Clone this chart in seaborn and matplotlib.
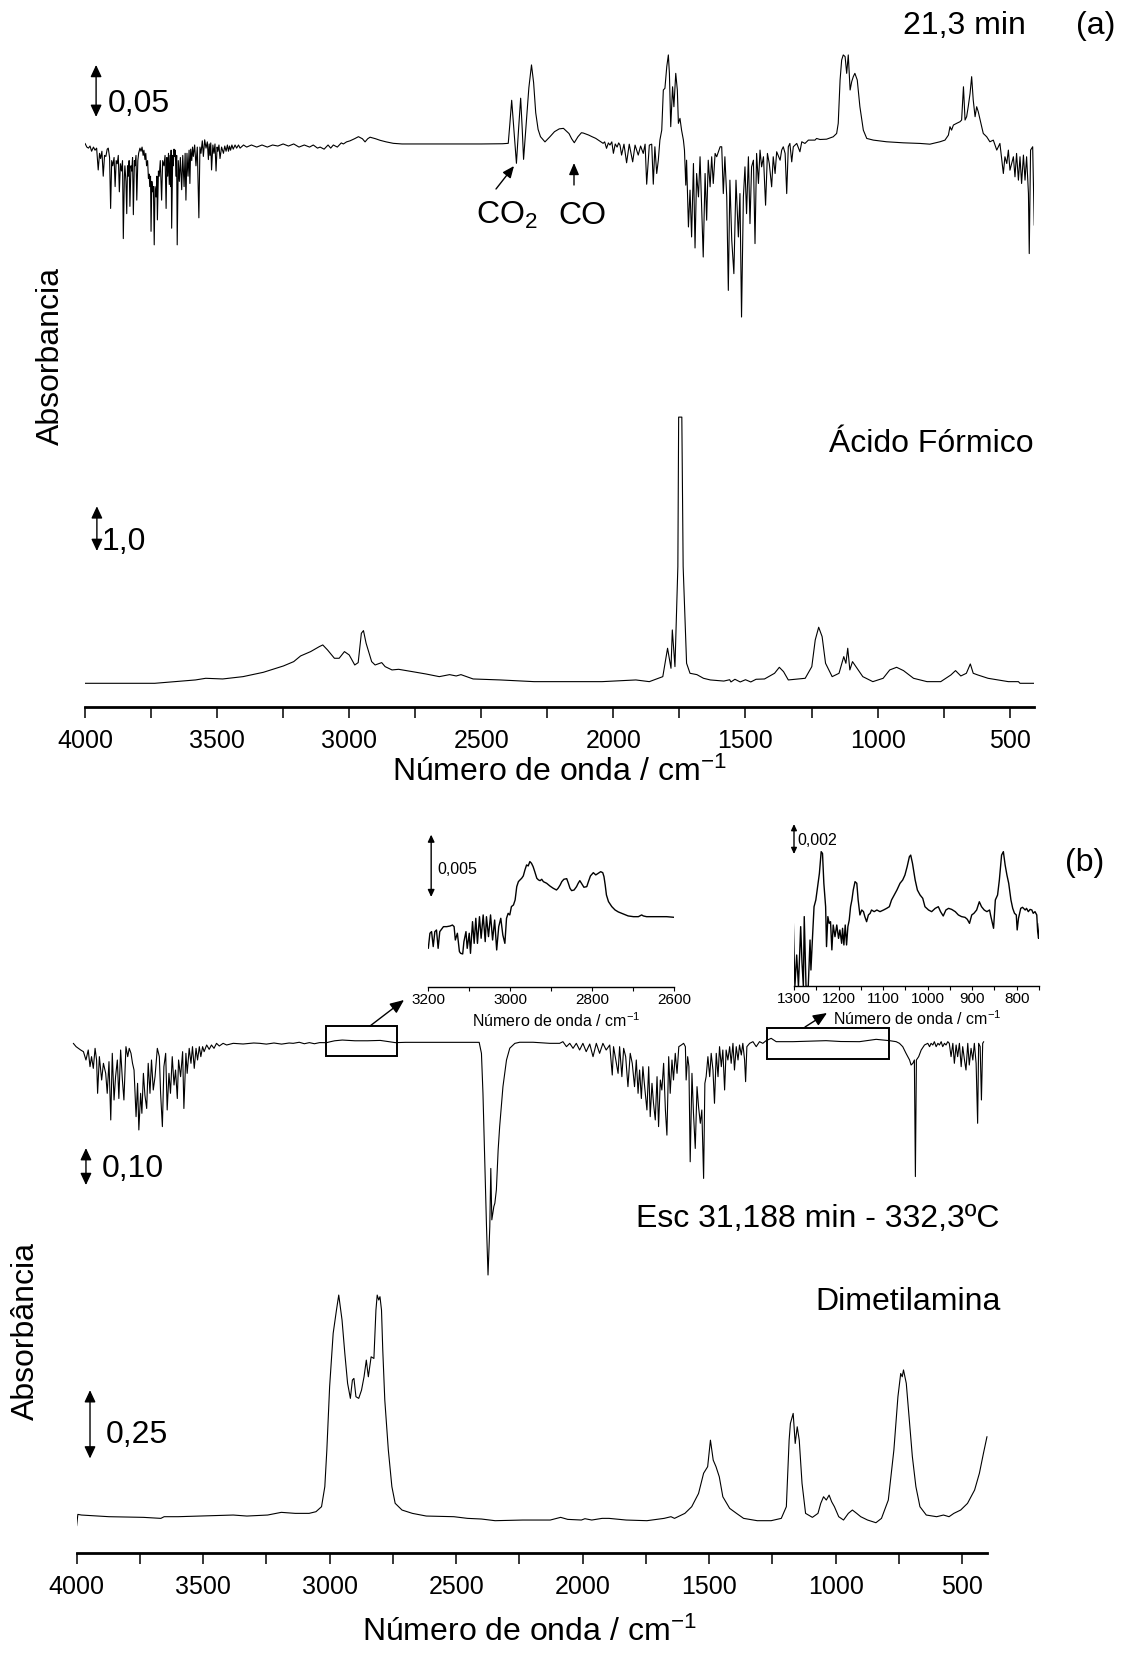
import matplotlib
matplotlib.use("Agg")
import matplotlib.pyplot as plt
import seaborn as sns
from matplotlib.ticker import MultipleLocator
from matplotlib.patches import Rectangle, FancyArrowPatch

# ---------------- data (wavenumber cm-1, absorbance) ----------------
# (a) sample spectrum at 21,3 min
SAMPLE_A = [
    (4000, 0.0016), (3993, -0.002), (3987, -0.003), (3981, -0.001), (3975, -0.006), (3968, -0.002),
    (3962, -0.005), (3956, -0.003), (3950, -0.024), (3945, -0.008), (3941, -0.013), (3936, -0.006),
    (3931, -0.030), (3926, -0.010), (3921, -0.011), (3916, -0.004), (3912, -0.003), (3907, -0.012),
    (3903, -0.061), (3899, -0.015), (3895, -0.020), (3890, -0.012), (3886, -0.040), (3882, -0.015),
    (3878, -0.018), (3874, -0.010), (3870, -0.045), (3866, -0.018), (3862, -0.025), (3858, -0.015),
    (3855, -0.090), (3851, -0.030), (3849, -0.020), (3845, -0.035), (3842, -0.066), (3839, -0.020),
    (3836, -0.030), (3833, -0.015), (3830, -0.059), (3826, -0.020), (3823, -0.025), (3820, -0.012),
    (3817, -0.067), (3813, -0.015), (3811, -0.020), (3807, -0.010), (3804, -0.053), (3800, -0.015),
    (3797, -0.008), (3792, -0.003), (3788, -0.006), (3784, -0.002), (3780, -0.010), (3777, -0.005),
    (3773, -0.014), (3770, -0.008), (3767, -0.020), (3763, -0.015), (3760, -0.032), (3757, -0.028),
    (3755, -0.040), (3752, -0.030), (3750, -0.083), (3747, -0.035), (3744, -0.045), (3741, -0.040),
    (3738, -0.096), (3735, -0.040), (3731, -0.050), (3728, -0.030), (3726, -0.072), (3722, -0.025),
    (3719, -0.030), (3715, -0.015), (3710, -0.053), (3706, -0.015), (3701, -0.020), (3697, -0.010),
    (3693, -0.061), (3690, -0.012), (3687, -0.030), (3684, -0.008), (3681, -0.038), (3678, -0.010),
    (3676, -0.040), (3674, -0.005), (3672, -0.080), (3668, -0.010), (3666, -0.020), (3663, -0.004),
    (3661, -0.011), (3658, -0.005), (3656, -0.030), (3653, -0.010), (3651, -0.096), (3647, -0.015),
    (3643, -0.035), (3639, -0.012), (3634, -0.043), (3630, -0.010), (3625, -0.040), (3621, -0.008),
    (3618, -0.053), (3614, -0.008), (3610, -0.030), (3606, -0.005), (3603, -0.037), (3600, -0.004),
    (3596, -0.015), (3593, -0.002), (3590, -0.011), (3585, 0.000), (3580, -0.020), (3575, -0.002),
    (3569, -0.070), (3565, -0.002), (3561, -0.008), (3556, 0.004), (3552, -0.011), (3547, 0.005),
    (3542, -0.003), (3537, 0.003), (3533, -0.014), (3530, 0.001), (3527, -0.010), (3524, 0.002),
    (3521, -0.024), (3516, 0.000), (3512, -0.008), (3508, 0.001), (3504, -0.025), (3500, -0.002),
    (3497, -0.006), (3493, 0.000), (3489, -0.013), (3483, -0.002), (3476, -0.008), (3471, -0.001),
    (3466, -0.006), (3461, 0.000), (3457, -0.006), (3453, -0.001), (3449, -0.005), (3444, 0.000),
    (3439, -0.004), (3432, 0.000), (3426, -0.003), (3419, 0.000), (3413, -0.003), (3400, 0.000),
    (3388, -0.002), (3370, 0.000), (3350, -0.002), (3330, 0.000), (3310, -0.002), (3290, 0.000),
    (3270, -0.001), (3250, 0.001), (3230, -0.001), (3210, 0.001), (3190, -0.002), (3170, 0.000),
    (3150, -0.002), (3136, 0.000), (3120, -0.003), (3110, -0.002), (3095, -0.004), (3080, 0.000),
    (3070, -0.003), (3060, 0.000), (3045, -0.002), (3030, 0.002), (3022, 0.001), (3010, 0.003),
    (2997, 0.004), (2980, 0.006), (2965, 0.008), (2950, 0.006), (2940, 0.003), (2930, 0.006),
    (2921, 0.0075), (2900, 0.006), (2883, 0.0045), (2860, 0.003), (2833, 0.0016), (2800, 0.001),
    (2700, 0.001), (2600, 0.001), (2500, 0.001), (2420, 0.0012), (2398, 0.0016),
    (2392, 0.020), (2385, 0.043), (2376, 0.012), (2367, -0.0176), (2359, 0.015), (2351, 0.045),
    (2345, 0.015), (2340, -0.0138), (2330, 0.020), (2320, 0.055), (2310, 0.077), (2302, 0.060),
    (2294, 0.031), (2285, 0.015), (2276, 0.008), (2259, 0.003), (2240, 0.008), (2223, 0.0128),
    (2205, 0.0155), (2189, 0.016), (2168, 0.011), (2158, 0.006), (2148, 0.0022), (2134, 0.008),
    (2121, 0.0118), (2114, 0.0115), (2094, 0.0096), (2081, 0.008), (2067, 0.0064), (2053, 0.004),
    (2039, 0.0016), (2033, 0.003), (2026, -0.0032), (2019, 0.002), (2013, 0.000), (2006, 0.003),
    (2000, -0.008), (1993, 0.001), (1986, -0.002), (1980, 0.002), (1975, -0.0001),
    (1969, -0.0097), (1960, 0.0008), (1950, -0.0171), (1940, 0.0008), (1927, -0.0162), (1918, -0.0001),
    (1906, -0.0097), (1897, -0.001), (1887, -0.0081), (1880, 0.0008), (1874, -0.0377), (1864, -0.0001),
    (1855, 0.0008), (1849, -0.0377), (1843, -0.0017), (1836, -0.0274), (1830, -0.0146), (1824, 0.0047),
    (1817, 0.0143), (1811, 0.0529), (1805, 0.0545), (1798, 0.0753), (1792, 0.0866), (1788, 0.0689),
    (1783, 0.0176), (1776, 0.056), (1771, 0.0368), (1764, 0.0689), (1758, 0.0529), (1754, 0.0208),
    (1748, 0.0256), (1742, 0.0143), (1735, 0.0047), (1731, -0.0049), (1726, -0.0386), (1723, -0.0146),
    (1716, -0.0788), (1710, -0.0434), (1704, -0.0884), (1697, -0.0178), (1691, -0.099), (1685, -0.0274),
    (1678, -0.0499), (1672, -0.0113), (1666, -0.0595), (1660, -0.1077), (1653, -0.0274), (1647, -0.0723),
    (1641, -0.0146), (1634, -0.0402), (1628, -0.0113), (1622, -0.037), (1615, -0.0081), (1609, -0.0113),
    (1596, -0.0017), (1590, -0.0017), (1584, -0.0467), (1578, -0.0113), (1571, -0.0499), (1565, -0.1398),
    (1559, -0.0338), (1552, -0.0916), (1544, -0.1237), (1536, -0.0338), (1527, -0.0884), (1521, -0.0467),
    (1515, -0.1654), (1508, -0.0499), (1502, -0.021), (1496, -0.066), (1489, -0.0113), (1483, -0.0756),
    (1477, -0.021), (1470, -0.0146), (1464, -0.0948), (1458, -0.0081), (1451, -0.037), (1445, -0.0049),
    (1439, -0.021), (1432, -0.0113), (1424, -0.0579), (1417, -0.0081), (1410, -0.0178), (1401, -0.0402),
    (1395, -0.0113), (1388, -0.0274), (1382, -0.0065), (1369, -0.0146), (1363, -0.0049), (1357, -0.0017),
    (1350, -0.0081), (1344, -0.0467), (1338, -0.0017), (1332, 0.0015), (1325, -0.0162), (1319, -0.0017),
    (1306, 0.0015), (1294, -0.0065), (1287, 0.0031), (1275, 0.0015), (1262, 0.0047), (1250, 0.0047),
    (1237, 0.0047), (1231, 0.0063), (1218, 0.0053), (1193, 0.0056), (1168, 0.0079), (1155, 0.0111),
    (1149, 0.0208), (1142, 0.0625), (1136, 0.0817), (1130, 0.0866), (1123, 0.085), (1117, 0.0689),
    (1111, 0.0866), (1104, 0.0529), (1098, 0.0609), (1092, 0.0657), (1086, 0.0689), (1077, 0.0625),
    (1067, 0.0368), (1054, 0.0143), (1041, 0.0063), (1016, 0.0047), (966, 0.0031), (903, 0.0021),
    (839, 0.0015), (802, 0.0008), (764, 0.0031), (745, 0.0047), (732, 0.0095), (726, 0.0176),
    (720, 0.0143), (713, 0.0192), (701, 0.0208), (688, 0.0224), (682, 0.024), (675, 0.056),
    (669, 0.024), (663, 0.0272), (657, 0.0368), (650, 0.0496), (644, 0.0657), (638, 0.0432),
    (631, 0.0272), (625, 0.0368), (619, 0.032), (612, 0.024), (606, 0.0176), (600, 0.0111),
    (587, 0.0079), (575, 0.0031), (562, 0.0047), (549, -0.0049), (537, 0.0015), (524, -0.0274),
    (518, -0.0113), (511, -0.0178), (505, -0.0049), (499, -0.0242), (486, -0.0113), (480, -0.0306),
    (474, -0.0081), (467, -0.0338), (461, -0.0113), (455, -0.037), (448, -0.0097), (442, -0.0338),
    (436, -0.0113), (429, -0.0467), (426, -0.1044), (421, -0.0049), (413, -0.0017), (407, -0.0772),
]

# (a) reference: formic acid
FORMIC = [
    (4000, 0.0), (3736, 0.0), (3582, 0.075), (3543, 0.112), (3479, 0.097), (3402, 0.149), (3325, 0.246),
    (3249, 0.388), (3210, 0.485), (3184, 0.612), (3146, 0.709), (3113, 0.821), (3100, 0.858),
    (3082, 0.746), (3056, 0.560), (3038, 0.560), (3018, 0.709), (3000, 0.634), (2979, 0.410),
    (2966, 0.463), (2954, 1.119), (2946, 1.179), (2936, 0.896), (2915, 0.485), (2902, 0.410),
    (2877, 0.463), (2864, 0.373), (2838, 0.299), (2813, 0.313), (2761, 0.261), (2710, 0.209),
    (2659, 0.149), (2620, 0.194), (2595, 0.164), (2577, 0.194), (2531, 0.097), (2428, 0.075),
    (2300, 0.037), (2043, 0.037), (1915, 0.075), (1864, 0.037), (1813, 0.149), (1795, 0.784),
    (1782, 0.336), (1777, 1.194), (1767, 0.373), (1756, 2.612), (1753, 5.955), (1741, 5.955),
    (1736, 2.612), (1723, 0.448), (1710, 0.224), (1684, 0.194), (1659, 0.112), (1633, 0.075),
    (1582, 0.05), (1560, 0.08), (1555, 0.03), (1540, 0.09), (1520, 0.03), (1500, 0.08), (1480, 0.03),
    (1460, 0.09), (1428, 0.097), (1390, 0.224), (1372, 0.358), (1356, 0.261), (1338, 0.075),
    (1300, 0.097), (1274, 0.112), (1249, 0.373), (1236, 0.970), (1223, 1.254), (1210, 1.045),
    (1197, 0.448), (1172, 0.149), (1146, 0.224), (1128, 0.597), (1120, 0.448), (1113, 0.784),
    (1105, 0.299), (1095, 0.485), (1082, 0.373), (1056, 0.149), (1018, 0.037), (979, 0.112),
    (954, 0.299), (928, 0.358), (902, 0.284), (864, 0.112), (813, 0.037), (761, 0.037), (723, 0.185),
    (705, 0.284), (685, 0.164), (664, 0.224), (649, 0.433), (638, 0.224), (620, 0.185), (582, 0.112),
    (505, 0.037), (467, 0.037), (461, 0.0), (408, 0.0),
]

# (b) sample spectrum Esc 31,188 min
SAMPLE_B = [
    (4013, -0.0009), (4002, -0.0099), (3993, -0.0144), (3984, -0.0189), (3973, -0.0234), (3963, -0.0459),
    (3954, -0.0189), (3947, -0.064), (3941, -0.0369), (3934, -0.0685), (3927, -0.0144), (3921, -0.0459),
    (3917, -0.136), (3910, -0.0369), (3901, -0.100), (3894, -0.0549), (3885, -0.082), (3879, -0.136),
    (3872, -0.0504), (3865, -0.208), (3859, -0.0279), (3852, -0.154), (3846, -0.091), (3839, -0.0459),
    (3833, -0.150), (3826, -0.0189), (3819, -0.100), (3813, -0.154), (3805, -0.0099), (3798, -0.0369),
    (3792, -0.0144), (3785, -0.0279), (3779, -0.0549), (3773, -0.073), (3765, -0.199), (3759, -0.109),
    (3754, -0.235), (3747, -0.136), (3742, -0.190), (3736, -0.082), (3730, -0.141), (3723, -0.177),
    (3717, -0.0549), (3710, -0.136), (3704, -0.0459), (3697, -0.127), (3690, -0.091), (3681, -0.0144),
    (3673, -0.0369), (3668, -0.136), (3661, -0.226), (3655, -0.064), (3648, -0.0279), (3642, -0.181),
    (3635, -0.082), (3629, -0.136), (3622, -0.0369), (3615, -0.1135), (3609, -0.073), (3602, -0.150),
    (3597, -0.0459), (3589, -0.091), (3581, -0.0234), (3576, -0.177), (3568, -0.0279), (3563, -0.082),
    (3555, -0.0144), (3548, -0.0549), (3542, -0.0099), (3535, -0.0685), (3528, -0.0144), (3522, -0.0459),
    (3515, -0.0099), (3509, -0.0369), (3502, -0.0099), (3496, -0.0234), (3486, -0.0054), (3476, -0.0171),
    (3467, -0.0054), (3457, -0.0144), (3447, -0.0009), (3436, -0.0081), (3421, -0.0009), (3407, -0.0054),
    (3381, -0.0009), (3342, -0.0027), (3300, 0.000), (3276, -0.0009), (3250, -0.003), (3220, 0.000),
    (3190, -0.003), (3160, 0.000), (3144, -0.0009), (3120, 0.002), (3100, -0.002), (3080, 0.001),
    (3060, -0.002), (3040, 0.001), (3012, 0.0009), (3000, 0.003), (2980, 0.006), (2950, 0.008),
    (2900, 0.006), (2850, 0.006), (2800, 0.007), (2770, 0.004), (2740, 0.001), (2700, 0.0018),
    (2600, 0.0018), (2500, 0.0018), (2409, 0.0018), (2400, -0.028), (2394, -0.136), (2387, -0.316),
    (2380, -0.496), (2374, -0.627), (2367, -0.496), (2363, -0.339), (2359, -0.478), (2351, -0.442),
    (2347, -0.433), (2341, -0.397), (2334, -0.289), (2328, -0.226), (2315, -0.118), (2301, -0.046),
    (2288, -0.014), (2268, -0.001), (2249, 0.002), (2196, 0.002), (2130, -0.0009),
    (2091, -0.0009), (2078, 0.0036), (2064, -0.0099), (2051, -0.0009), (2038, -0.0144), (2025, -0.0009),
    (2012, -0.0189), (1999, -0.0009), (1986, -0.0234), (1972, -0.0027), (1959, -0.0369), (1946, -0.0009),
    (1933, -0.0279), (1920, -0.0009), (1907, -0.0189), (1893, -0.0054), (1883, -0.0865), (1878, -0.0099),
    (1867, -0.0549), (1860, -0.082), (1854, -0.0099), (1845, -0.091), (1838, -0.0144), (1830, -0.0369),
    (1821, -0.118), (1812, -0.0279), (1804, -0.0549), (1795, -0.118), (1788, -0.0459), (1781, -0.136),
    (1775, -0.073), (1768, -0.150), (1762, -0.064), (1755, -0.118), (1746, -0.181), (1739, -0.064),
    (1733, -0.199), (1726, -0.109), (1720, -0.163), (1713, -0.208), (1706, -0.091), (1700, -0.226),
    (1693, -0.100), (1687, -0.127), (1680, -0.0549), (1673, -0.181), (1667, -0.249), (1660, -0.0369),
    (1654, -0.136), (1647, -0.0459), (1641, -0.100), (1634, -0.0279), (1627, -0.082), (1620, -0.0099),
    (1610, -0.0054), (1601, -0.0009), (1594, -0.0099), (1591, -0.100), (1585, -0.0369), (1580, -0.064),
    (1575, -0.321), (1568, -0.082), (1562, -0.190), (1555, -0.285), (1548, -0.118), (1542, -0.172),
    (1535, -0.217), (1529, -0.181), (1522, -0.366), (1517, -0.109), (1512, -0.091), (1505, -0.0369),
    (1498, -0.091), (1492, -0.0279), (1485, -0.073), (1479, -0.163), (1472, -0.0279), (1465, -0.091),
    (1459, -0.0099), (1452, -0.064), (1446, -0.0189), (1439, -0.127), (1433, -0.0189), (1426, -0.0459),
    (1419, -0.0099), (1413, -0.0549), (1406, -0.0009), (1400, -0.073), (1393, -0.0099), (1386, -0.0459),
    (1380, -0.0054), (1373, -0.0324), (1367, -0.0009), (1360, -0.0459), (1356, -0.1045), (1351, -0.0099),
    (1340, -0.0009), (1327, 0.0036), (1314, -0.0099), (1301, 0.0036), (1288, -0.0009), (1275, 0.0063),
    (1255, 0.0126), (1235, 0.0036), (1169, 0.0036), (1100, 0.005), (1038, 0.0063), (980, 0.004),
    (906, 0.0036), (840, 0.0099), (787, 0.0063), (761, 0.0036), (748, -0.0009), (735, -0.0099),
    (722, -0.0279), (708, -0.0459), (702, -0.0595), (695, -0.0549), (689, -0.0459), (685, -0.361),
    (681, -0.0459), (672, -0.0369), (662, -0.0189), (649, -0.0054), (636, -0.0009), (629, -0.0099),
    (623, -0.0009), (616, -0.0054), (610, 0.0036), (603, -0.0099), (596, -0.0009), (590, -0.0054),
    (583, 0.0036), (577, -0.0099), (570, -0.0009), (564, -0.0054), (557, 0.0036), (551, -0.0009),
    (544, -0.0369), (537, -0.0009), (531, -0.0549), (524, -0.0054), (518, -0.0369), (511, -0.0009),
    (504, -0.064), (498, -0.0099), (491, -0.0459), (485, -0.073), (478, -0.0009), (472, -0.0595),
    (465, -0.0144), (458, -0.0459), (452, -0.0009), (445, -0.0549), (439, -0.217), (435, -0.0009),
    (429, -0.0099), (424, -0.154), (419, -0.0009), (415, 0.0036),
]

# (b) reference: dimethylamine
DIMETIL = [
    (4000, -0.034), (3995, 0.0085), (3981, 0.0061), (3872, 0.0), (3736, -0.0024), (3667, -0.0061),
    (3654, 0.0), (3599, 0.0), (3463, 0.0037), (3381, 0.0061), (3327, 0.0024), (3245, 0.0061),
    (3191, 0.0159), (3136, 0.0122), (3081, 0.0122), (3054, 0.0183), (3032, 0.0366), (3019, 0.110),
    (3011, 0.244), (3000, 0.476), (2986, 0.671), (2973, 0.756), (2964, 0.811), (2951, 0.720),
    (2940, 0.598), (2929, 0.488), (2918, 0.433), (2910, 0.500), (2904, 0.506), (2896, 0.439),
    (2885, 0.433), (2874, 0.463), (2864, 0.512), (2855, 0.573), (2847, 0.512), (2836, 0.585),
    (2825, 0.579), (2817, 0.756), (2812, 0.811), (2806, 0.793), (2801, 0.805), (2795, 0.756),
    (2790, 0.610), (2782, 0.427), (2768, 0.244), (2754, 0.110), (2741, 0.049), (2714, 0.0244),
    (2673, 0.0122), (2618, 0.0024), (2509, 0.0), (2455, -0.0061), (2400, -0.0085), (2346, -0.0146),
    (2237, -0.0122), (2128, -0.0122), (2087, -0.0024), (2059, -0.0098), (2005, -0.0122), (1991, -0.0073),
    (1964, -0.0122), (1923, -0.0061), (1896, -0.0061), (1828, -0.0122), (1746, -0.0146), (1678, -0.0061),
    (1651, 0.0), (1637, -0.0061), (1596, 0.0122), (1569, 0.0366), (1542, 0.085), (1522, 0.159),
    (1506, 0.183), (1495, 0.280), (1484, 0.207), (1473, 0.183), (1460, 0.146), (1446, 0.073),
    (1419, 0.0305), (1392, 0.0122), (1364, -0.0061), (1310, -0.0146), (1255, -0.0146), (1215, -0.0061),
    (1195, 0.0366), (1184, 0.280), (1179, 0.341), (1168, 0.378), (1160, 0.268), (1152, 0.329),
    (1144, 0.280), (1133, 0.122), (1119, 0.0122), (1092, -0.0024), (1070, 0.0122), (1059, 0.0488),
    (1048, 0.073), (1037, 0.061), (1026, 0.079), (1016, 0.0549), (1005, 0.0366), (988, 0.0),
    (969, -0.0122), (950, 0.0122), (934, 0.0244), (917, 0.0122), (901, 0.0), (874, -0.0122),
    (841, -0.022), (819, -0.0061), (792, 0.061), (770, 0.244), (754, 0.439), (743, 0.524),
    (737, 0.512), (732, 0.537), (721, 0.488), (710, 0.366), (697, 0.220), (683, 0.110), (667, 0.0366),
    (642, 0.0061), (601, 0.0), (574, 0.0061), (552, 0.0), (533, 0.0122), (506, 0.0244), (479, 0.0488),
    (451, 0.0976), (432, 0.159), (416, 0.232), (402, 0.293),
]

# inset 1: 3200-2600 cm-1 region of the (b) sample (relative absorbance)
INSET_1 = [
    (3200, -0.00249), (3196, -0.00128), (3192, -0.00115), (3188, -0.00235), (3184, -0.00115),
    (3180, -0.00102), (3176, -0.00249), (3172, -0.00115), (3163, -0.00075), (3155, -0.00075),
    (3147, -0.0007), (3141, -0.00062), (3137, -0.00075), (3134, -0.00182), (3129, -0.00128),
    (3124, -0.00275), (3121, -0.00289), (3116, -0.00294), (3113, -0.00195), (3108, -0.00115),
    (3105, -0.00249), (3100, -0.00128), (3097, -0.00289), (3092, -0.00035), (3088, -0.00209),
    (3084, -0.00008), (3080, -0.00209), (3075, 0.00005), (3071, -0.00168), (3066, 0.00019),
    (3061, -0.00195), (3058, 0.00005), (3053, -0.00155), (3048, 0.00019), (3043, -0.00182),
    (3038, -0.00022), (3033, -0.00262), (3028, -0.00075), (3023, -0.00008), (3018, -0.00142),
    (3013, -0.00209), (3009, -0.00008), (3005, 0.00032), (3001, 0.00019), (2997, 0.00086),
    (2992, 0.00099), (2988, 0.00139), (2984, 0.00246), (2980, 0.00286), (2976, 0.003),
    (2972, 0.00313), (2968, 0.00332), (2964, 0.0038), (2960, 0.0042), (2956, 0.00412),
    (2952, 0.00447), (2948, 0.00433), (2944, 0.00406), (2940, 0.00366), (2935, 0.00313),
    (2931, 0.003), (2927, 0.00294), (2923, 0.00305), (2919, 0.00286), (2911, 0.00273),
    (2903, 0.00251), (2895, 0.00233), (2887, 0.00219), (2883, 0.00233), (2878, 0.00259),
    (2874, 0.00286), (2869, 0.00305), (2862, 0.0031), (2858, 0.00273), (2854, 0.00233),
    (2850, 0.00214), (2844, 0.00219), (2838, 0.00246), (2834, 0.00273), (2830, 0.00294),
    (2826, 0.00273), (2820, 0.00241), (2813, 0.00246), (2809, 0.00286), (2804, 0.00332),
    (2797, 0.00358), (2791, 0.0034), (2785, 0.00353), (2779, 0.00366), (2774, 0.00358),
    (2771, 0.00326), (2768, 0.00259), (2765, 0.00179), (2760, 0.00126), (2752, 0.00086),
    (2744, 0.00059), (2736, 0.00043), (2724, 0.00027), (2712, 0.00011), (2699, 0.00005),
    (2687, 0.00005), (2679, 0.00019), (2675, 0.00011), (2667, 0.00005), (2642, 0.00005),
    (2618, 0.00005), (2600, 0.0),
]

# inset 2: 1300-750 cm-1 region of the (b) sample (relative absorbance)
INSET_2 = [
    (1301.5, -0.00089), (1298, -0.0051), (1294, -0.003), (1290, -0.0051), (1285, -0.00111),
    (1282, -0.00355), (1279, -0.0051), (1277, -0.00044), (1273, -0.0051), (1268, -0.0051),
    (1264, -0.002), (1262, -0.004), (1258, -0.00155), (1255, 0.00022), (1251, 0.00067),
    (1248, 0.00133), (1243, 0.00244), (1239, 0.00389), (1236, 0.00377), (1233, 0.00178),
    (1229, 0.00022), (1227, -0.00244), (1224, -0.00044), (1221, -0.00089), (1218, -0.00078),
    (1215, -0.00266), (1212, -0.001), (1208, -0.00178), (1204, -0.001), (1200, -0.00189),
    (1197, -0.00133), (1193, -0.00222), (1191, -0.00122), (1188, -0.00233), (1185, -0.001),
    (1182, -0.00233), (1179, -0.00111), (1176, -0.00067), (1173, 0.00022), (1170, 0.00067),
    (1167, 0.00133), (1163, 0.00189), (1159, 0.00178), (1156, 0.00067), (1152, -0.00033),
    (1148, 0.0), (1144, -0.00011), (1141, -0.00044), (1137, -0.00078), (1133, -0.00033),
    (1129, -0.00022), (1126, 0.0), (1120, -0.00011), (1114, 0.0), (1107, -0.00011), (1099, 0.0),
    (1092, 0.00011), (1086, 0.00022), (1081, 0.00067), (1075, 0.001), (1069, 0.00133),
    (1062, 0.00178), (1056, 0.002), (1051, 0.00233), (1046, 0.00289), (1041, 0.00355),
    (1038, 0.00366), (1034, 0.00311), (1028, 0.002), (1023, 0.00133), (1017, 0.001),
    (1011, 0.00078), (1006, 0.00022), (998, 0.0), (991, -0.00011), (983, 0.00011), (976, 0.00022),
    (971, -0.00011), (965, -0.0004), (959, 0.0), (953, 0.00011), (946, 0.00004), (938, -0.00011),
    (931, -0.00033), (924, -0.00044), (916, -0.00049), (911, -0.00062), (906, -0.00089),
    (901, -0.00033), (896, -0.00022), (890, 0.0), (884, 0.00055), (879, 0.00022), (873, 0.0),
    (867, -0.00011), (861, 0.0), (858, -0.00044), (852, -0.00122), (848, 0.00067), (843, 0.001),
    (839, 0.002), (834, 0.00366), (830, 0.00389), (826, 0.003), (822, 0.00233), (818, 0.00178),
    (813, 0.00067), (809, 0.00011), (805, -0.00022), (801, -0.00033), (799, -0.00133),
    (796, -0.00055), (791, 0.00011), (787, 0.00018), (781, 0.0), (778, 0.00011), (774, -0.00011),
    (770, 0.00004), (766, 0.0), (763, -0.00022), (759, -0.00011), (755, -0.00033), (753, -0.00144),
    (751, -0.00189), (749, -0.00089),
]

XLABEL = "Número de onda / cm$^{-1}$"

# ---------------- style ----------------
sns.set_theme(style="white", rc={"text.color": "black", "axes.labelcolor": "black",
                                 "xtick.color": "black", "ytick.color": "black",
                                 "axes.edgecolor": "black"})
plt.rcParams["font.family"] = ["Liberation Sans", "DejaVu Sans"]
plt.rcParams["mathtext.fontset"] = "custom"
plt.rcParams["mathtext.rm"] = "Liberation Sans"
plt.rcParams["mathtext.it"] = "Liberation Sans:italic"
plt.rcParams["mathtext.bf"] = "Liberation Sans:bold"

W, H = 1122, 1653
fig = plt.figure(figsize=(W / 100, H / 100), dpi=100)
fig.patch.set_facecolor("white")


def rect(x0, y0, x1, y1):
    return [x0 / W, 1 - y1 / H, (x1 - x0) / W, (y1 - y0) / H]


def ylims(base, k, top, bottom):
    lo = (base - bottom) / k
    return lo, lo + (bottom - top) / k


def ftext(x, y, s, size=23, ha="left", va="baseline", **kw):
    fig.text(x / W, 1 - y / H, s, fontsize=size, ha=ha, va=va, color="black", **kw)


def farrow(x0, y0, x1, y1, ms=10):
    fig.add_artist(FancyArrowPatch((x0 / W, 1 - y0 / H), (x1 / W, 1 - y1 / H),
                                   transform=fig.transFigure,
                                   arrowstyle="-|>,head_length=0.7,head_width=0.3",
                                   mutation_scale=ms, color="black", lw=1.0,
                                   shrinkA=0, shrinkB=0))


def scalebar(ax, x, y0, y1, ms=12):
    ax.annotate("", xy=(x, y1), xytext=(x, y0), xycoords="data",
                arrowprops=dict(arrowstyle="<|-|>,head_length=0.6,head_width=0.28",
                                mutation_scale=ms, color="black", lw=1.0,
                                shrinkA=0, shrinkB=0),
                annotation_clip=False)


def draw(ax, pts, lw=0.8, clip=True):
    wn = [p[0] for p in pts]
    ab = [p[1] for p in pts]
    sns.lineplot(x=wn, y=ab, ax=ax, color="black", linewidth=lw,
                 estimator=None, sort=False, legend=False)
    ax.lines[-1].set_clip_on(clip)
    ax.set_xlabel("")
    ax.set_ylabel("")


def style_main(ax, pad):
    for s in ("left", "right", "top"):
        ax.spines[s].set_visible(False)
    ax.spines["bottom"].set_linewidth(2.0)
    ax.set_yticks([])
    ax.xaxis.set_major_locator(MultipleLocator(500))
    ax.xaxis.set_minor_locator(MultipleLocator(250))
    ax.tick_params(axis="x", which="both", direction="out", length=8, width=1.1,
                   bottom=True, top=False, labelsize=18, pad=pad)
    ax.set_facecolor("none")


def hide_all(ax):
    for s in ax.spines.values():
        s.set_visible(False)
    ax.set_yticks([])
    ax.tick_params(left=False, right=False, labelleft=False, labelright=False)


def style_inset(ax, major, minor):
    for s in ("left", "right", "top"):
        ax.spines[s].set_visible(False)
    ax.spines["bottom"].set_linewidth(1.0)
    ax.set_yticks([])
    ax.xaxis.set_major_locator(MultipleLocator(major))
    ax.xaxis.set_minor_locator(MultipleLocator(minor))
    ax.tick_params(axis="x", which="both", direction="out", length=3, width=0.8,
                   bottom=True, top=False, labelsize=11, pad=1.5)
    ax.set_facecolor("none")


# ---------------- panel (a) ----------------
axA = fig.add_axes(rect(85, 0, 1034, 707))
draw(axA, FORMIC)
axA.set_ylim(*ylims(683.3, 44.7, 0, 707))
style_main(axA, pad=8)

axA2 = axA.twinx()
draw(axA2, SAMPLE_A)
axA2.set_ylim(*ylims(145, 1040, 0, 707))
hide_all(axA2)
axA.set_xlim(4000, 408)

scalebar(axA2, 3958, 0.027, 0.077)
scalebar(axA, 3955, 2.96, 3.96)

ftext(1026, 34, "21,3 min", ha="right")
ftext(1076, 34, "(a)")
ftext(108, 112, "0,05")
ftext(476, 224, "CO$_2$")
ftext(558, 224, "CO")
farrow(496, 189, 514, 166)
farrow(574, 185, 574, 163)
ftext(1034, 452, "Ácido Fórmico", ha="right")
ftext(102, 550, "1,0")
ftext(559, 781, XLABEL, ha="center")
ftext(51, 356, "Absorbancia", ha="center", va="center", rotation=90)

# ---------------- panel (b) ----------------
axB = fig.add_axes(rect(76.6, 860, 987.5, 1553))
draw(axB, DIMETIL)
axB.set_ylim(*ylims(1516.7, 273.3, 860, 1553))
style_main(axB, pad=8)

axB2 = axB.twinx()
draw(axB2, SAMPLE_B, clip=False)
axB2.set_ylim(*ylims(1043, 370, 860, 1553))
hide_all(axB2)
axB.set_xlim(4000, 400)

axB2.add_patch(Rectangle((2735, -0.0351), 280, 0.0819, fill=False, ec="black", lw=1.4))
axB2.add_patch(Rectangle((791, -0.0432), 482, 0.0846, fill=False, ec="black", lw=1.4))

scalebar(axB2, 3963, -0.384, -0.284)
scalebar(axB, 3947, 0.213, 0.463)

ftext(1065, 871, "(b)")
ftext(102, 1177, "0,10")
ftext(999, 1227, "Esc 31,188 min - 332,3ºC", ha="right")
ftext(1001, 1310, "Dimetilamina", ha="right")
ftext(106, 1443, "0,25")
ftext(529, 1641, XLABEL, ha="center")
ftext(26, 1331, "Absorbância", ha="center", va="center", rotation=90)

# ---------------- insets ----------------
axI1 = fig.add_axes(rect(428.3, 820, 674, 987))
draw(axI1, INSET_1, lw=1.0)
axI1.set_xlim(3200, 2600)
axI1.set_ylim(*ylims(917.3, 12467, 820, 987))
style_inset(axI1, 200, 100)
scalebar(axI1, 3193, 0.00163, 0.00663, ms=7)
ftext(437, 874, "0,005", size=11.5)
ftext(556, 1027, XLABEL, size=11.5, ha="center")

axI2 = fig.add_axes(rect(794, 815, 1039, 986))
draw(axI2, INSET_2, lw=1.0)
axI2.set_xlim(1300, 750)
axI2.set_ylim(*ylims(910, 15000, 815, 986))
style_inset(axI2, 100, 50)
scalebar(axI2, 1300, 0.00373, 0.00573, ms=6)
ftext(797, 845, "0,002", size=11.5)
ftext(917, 1025, XLABEL, size=11.5, ha="center")

farrow(370, 1026, 404, 1000, ms=12)
farrow(805, 1027, 827, 1013, ms=12)

fig.savefig("out.png", dpi=100, facecolor="white")
